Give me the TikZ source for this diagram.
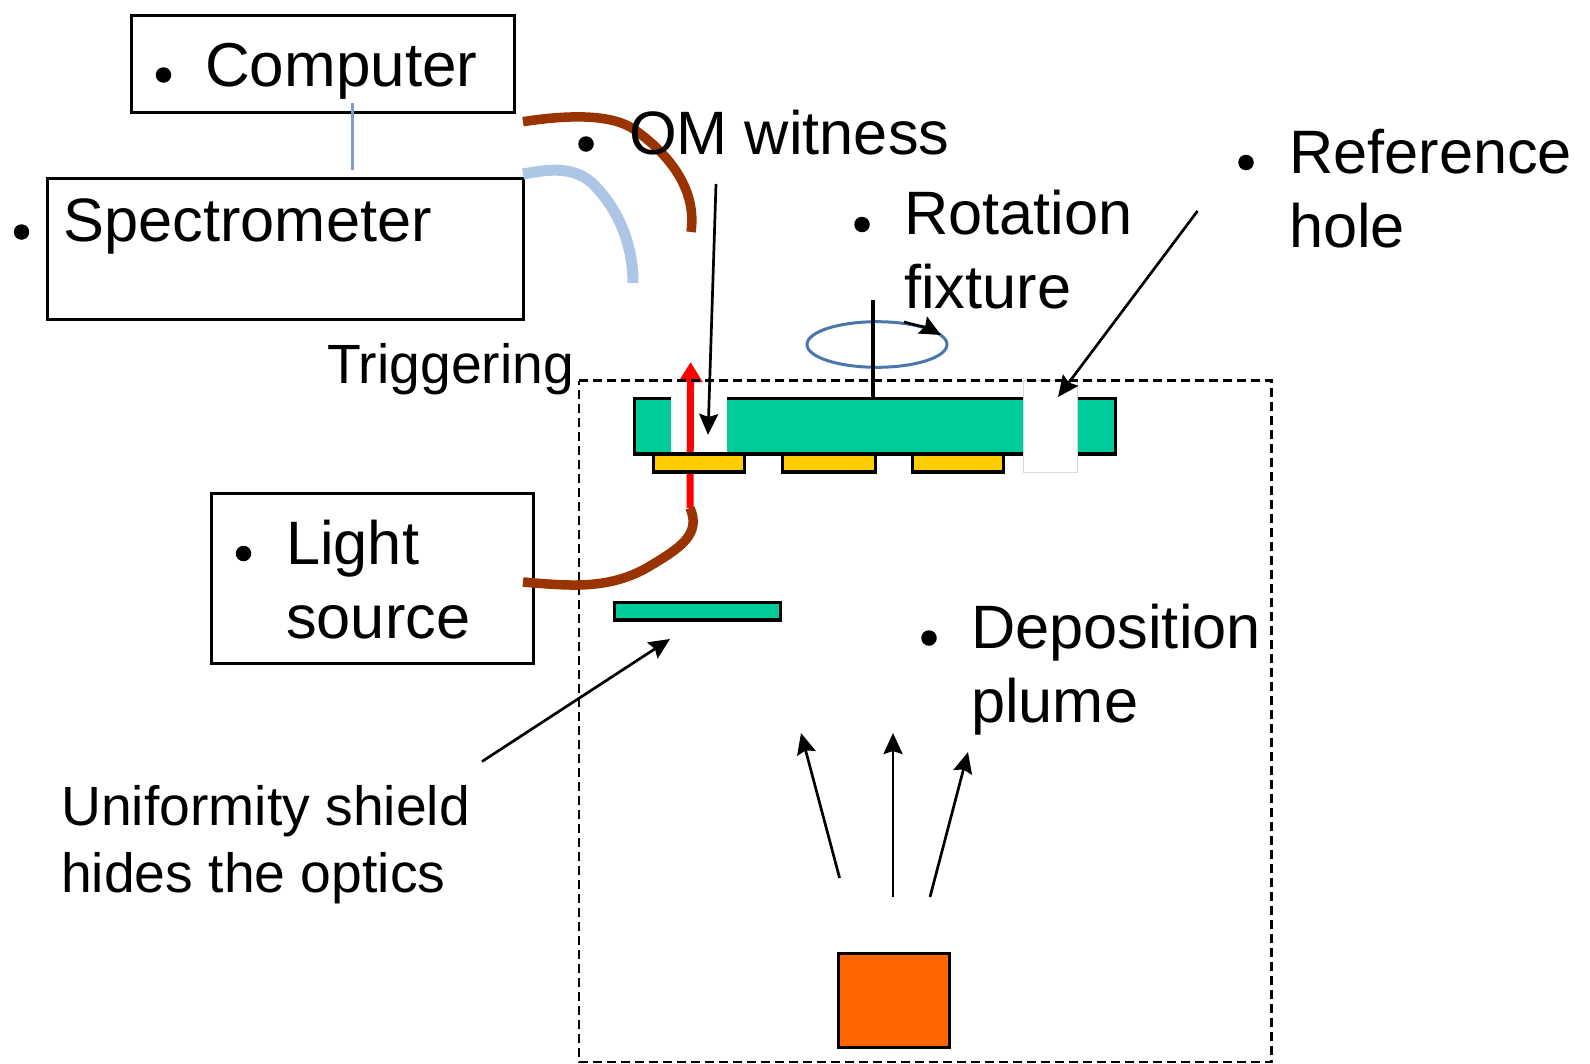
\documentclass[tikz,border=0pt]{standalone}
\usepackage{fontspec}
\setmainfont{Liberation Sans}
\usetikzlibrary{arrows.meta}
\definecolor{plate}{HTML}{00CC99}
\definecolor{gold}{HTML}{FFCC00}
\definecolor{brownc}{HTML}{993300}
\definecolor{lightb}{HTML}{AEC6E6}
\definecolor{lineb}{HTML}{7F9FC8}
\definecolor{ellb}{HTML}{4A76AE}
\definecolor{orangec}{HTML}{FF6600}
\tikzset{
  box/.style={draw=black,line width=3pt,fill=white,inner sep=0pt,outer sep=0pt},
  greenbox/.style={box,fill=plate,line width=3.2pt},
  goldbox/.style={box,fill=gold,line width=3.2pt},
  label61/.style={anchor=base west,inner sep=0pt,font=\fontsize{61.3}{61.3}\selectfont},
  label55/.style={anchor=base west,inner sep=0pt,font=\fontsize{55.3}{55.3}\selectfont},
  dotm/.style={circle,fill=black,inner sep=0pt,minimum size=15.5pt},
  fibre/.style={line width=9.5pt},
  thin arrow/.style={line width=2.7pt,-{Stealth[length=21pt,width=19pt,inset=3pt]}},
}
\begin{document}
\begin{tikzpicture}[x=1pt,y=-1pt]
\useasboundingbox (0,0) rectangle (1590,1063);
% boxes
\node[box,minimum width=383pt,minimum height=97pt] (computer) at (322.8,64.4) {};
\node[box,minimum width=476pt,minimum height=141pt] (spec) at (285.2,248.6) {};
\node[box,minimum width=322.4pt,minimum height=170pt] (light) at (372.2,578) {};
% coordinates for free ends
\coordinate (blueA) at (352.6,103);
\coordinate (blueB) at (352.6,170);
\coordinate (fibA) at (523,121.7);
\coordinate (fibB) at (691,232);
\coordinate (fibC) at (523,174);
\coordinate (fibD) at (633,283);
\coordinate (fibE) at (523,582);
\coordinate (fibF) at (690,508);
\coordinate (redTip) at (690.6,362);
\coordinate (omA) at (716,184);
\coordinate (omB) at (708,435);
\coordinate (axisA) at (873,300);
\coordinate (axisB) at (873,398);
\coordinate (rotA) at (904,322);
\coordinate (rotB) at (941,335);
\coordinate (refA) at (1197.5,211);
\coordinate (refB) at (1058,397);
\coordinate (uniA) at (482,761.5);
\coordinate (uniB) at (670,639);
\coordinate (pA) at (839.6,878);
\coordinate (pAe) at (801,733);
\coordinate (pB) at (893,897);
\coordinate (pBe) at (893,733);
\coordinate (pC) at (930,897);
\coordinate (pCe) at (968,752);
% plate and holes
\node[greenbox,minimum width=481pt,minimum height=55.5pt] (fixture) at (874.7,426.2) {};
\node[fill=white,inner sep=0pt,minimum width=56pt,minimum height=73pt] (holeL) at (699,416.5) {};
\draw[red,line width=7pt,-{Triangle[length=20pt,width=23pt]}] (fibF) -- (redTip);
\node[goldbox,minimum width=91pt,minimum height=18pt] (g1) at (699,463) {};
\node[goldbox,minimum width=92.6pt,minimum height=18pt] (g2) at (828.8,463) {};
\node[goldbox,minimum width=91pt,minimum height=18pt] (g3) at (958,463) {};
\node[draw=black!15,line width=1pt,fill=white,inner sep=0pt,minimum width=54.4pt,minimum height=92pt] (holeR) at (1050.5,426) {};
\draw[line width=2.6pt,dash pattern=on 9pt off 5pt] (579,380.5) -- (1271.5,380.5) -- (1271.5,1062) -- (579,1062) -- cycle;
% shield and source
\node[greenbox,minimum width=166pt,minimum height=17.5pt] (shield) at (697.5,611.3) {};
\node[box,fill=orangec,minimum width=110.6pt,minimum height=94pt] (source) at (893.8,1000) {};
% fibres
\draw[lineb,line width=3pt] (blueA) -- (blueB);
\draw[brownc,fibre] (fibA) .. controls (560,116) and (610,112) .. (635,130) .. controls (670,155) and (697,190) .. (fibB);
\draw[lightb,line width=11pt] (fibC) .. controls (545,170) and (572,165) .. (592,183) .. controls (615,205) and (633,240) .. (fibD);
\draw[brownc,fibre] (fibE) .. controls (570,586) and (610,590) .. (650,566) .. controls (678,549) and (702,535) .. (fibF);
% rotation
\draw[ellb,line width=3pt] (877,344.5) ellipse [x radius=70,y radius=22.8];
\draw[line width=4pt] (axisA) -- (axisB);
\draw[thin arrow] (rotA) .. controls (915,325) and (928,328) .. (rotB);
% arrows
\draw[thin arrow] (omA) -- (omB);
\draw[thin arrow] (refA) -- (refB);
\draw[thin arrow] (uniA) -- (uniB);
\draw[thin arrow] (pA) -- (pAe);
\draw[thin arrow] (pB) -- (pBe);
\draw[thin arrow] (pC) -- (pCe);
% labels
\node[label61,font=\fontsize{62}{62}\selectfont] (tComputer) at (205,86.5) {Computer};
\node[label61] (tSpec) at (63.5,241) {Spectrometer};
\node[label61] (tOM) at (629,154) {OM witness};
\node[label61] (tRot) at (904,234.5) {Rotation};
\node[label61] (tFix) at (904,308.5) {fixture};
\node[label61] (tRef) at (1289,173.5) {Reference};
\node[label61] (tHole) at (1289,247.5) {hole};
\node[label61] (tLight) at (286,564) {Light};
\node[label61] (tSource) at (286,638.5) {source};
\node[label61] (tDep) at (971,648) {Deposition};
\node[label61] (tPlume) at (971,722) {plume};
\node[label55] (tTrig) at (327,383.5) {Triggering};
\node[label55] (tUni) at (61,825.5) {Uniformity shield};
\node[label55] (tHides) at (61,892.5) {hides the optics};
% bullets
\node[dotm] (b1) at (163.5,75) {};
\node[dotm] (b2) at (21.5,232) {};
\node[dotm] (b3) at (586,144) {};
\node[dotm] (b4) at (862,224.5) {};
\node[dotm] (b5) at (1246,162.5) {};
\node[dotm] (b6) at (243.5,553.5) {};
\node[dotm] (b7) at (929,638) {};
\end{tikzpicture}
\end{document}
